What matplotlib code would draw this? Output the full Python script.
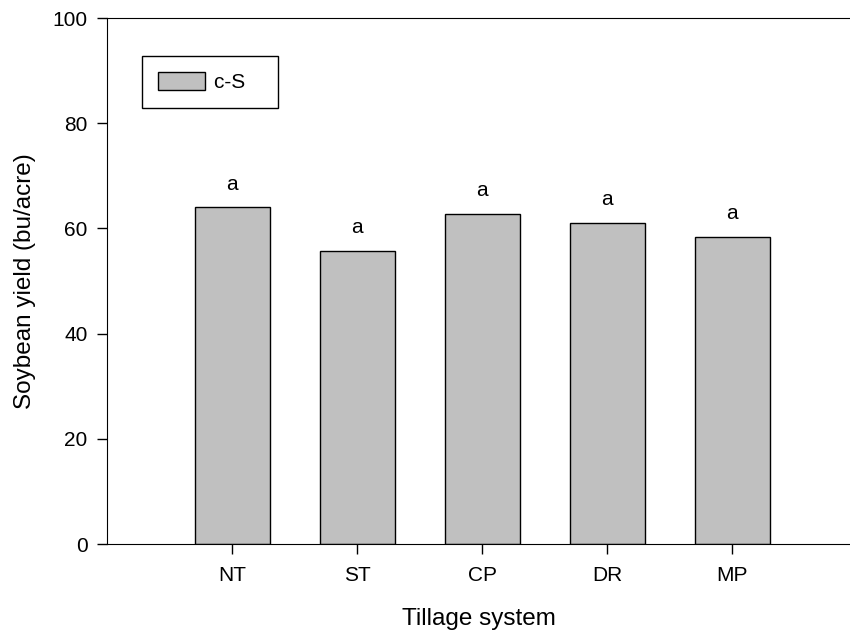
import matplotlib.pyplot as plt

plt.rcParams['font.family'] = ['Liberation Sans', 'DejaVu Sans']

# Soybean yield by tillage system
systems = ['NT', 'ST', 'CP', 'DR', 'MP']
yield_cs = [64.0, 55.8, 62.7, 61.1, 58.4]
letters = ['a', 'a', 'a', 'a', 'a']
series_name = 'c-S'

fig = plt.figure(figsize=(8.5, 6.32), dpi=100)
ax = fig.add_axes([0.126, 0.139, 0.874, 0.8325])

pos = [i + 1 for i in range(len(systems))]
ax.bar(pos, yield_cs, width=0.6, color='#c0c0c0', edgecolor='black',
       linewidth=1, label=series_name + '   ')  # trailing space widens the box

for x, v, t in zip(pos, yield_cs, letters):
    ax.text(x, v + 3.4, t, ha='center', va='baseline', fontsize=15)

ax.set_xlim(0, 5.94)
ax.set_ylim(0, 100)
ax.set_xticks(pos)
ax.set_xticklabels(systems)
ax.set_yticks([0, 20, 40, 60, 80, 100])
ax.tick_params(axis='both', labelsize=15, length=7, width=1, direction='out')
ax.tick_params(axis='x', pad=9)
ax.tick_params(axis='y', pad=7)
ax.spines['right'].set_visible(False)

ax.set_xlabel('Tillage system', fontsize=17.5, labelpad=16)
ax.set_ylabel('Soybean yield (bu/acre)', fontsize=17.5, labelpad=12)

leg = ax.legend(loc='upper left', bbox_to_anchor=(0.047, 0.928), fontsize=15,
                fancybox=False, edgecolor='black', framealpha=1,
                handlelength=2.25, handleheight=1.0, handletextpad=0.45,
                borderpad=0.75, borderaxespad=0)
leg.get_frame().set_linewidth(1)

plt.savefig('out.png', dpi=100)
